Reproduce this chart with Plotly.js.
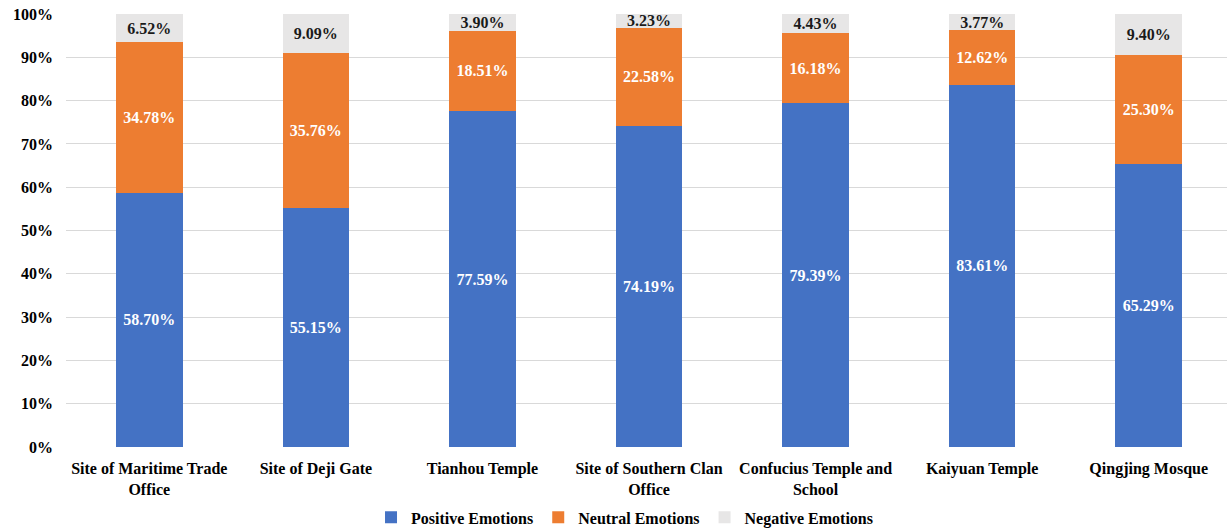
<!DOCTYPE html>
<html>
<head>
<meta charset="utf-8">
<script src="https://cdn.plot.ly/plotly-3.0.1.min.js"></script>
<style>html,body{margin:0;padding:0;background:#fff;overflow:hidden;}#chart{width:1232px;height:529px;}</style>
</head>
<body>
<div id="chart"></div>
<script>
const categories = [
  "Site of Maritime Trade<br>Office",
  "Site of Deji Gate",
  "Tianhou Temple",
  "Site of Southern Clan<br>Office",
  "Confucius Temple and<br>School",
  "Kaiyuan Temple",
  "Qingjing Mosque"
];
const positive = [58.70, 55.15, 77.59, 74.19, 79.39, 83.61, 65.29];
const neutral  = [34.78, 35.76, 18.51, 22.58, 16.18, 12.62, 25.30];
const negative = [6.52, 9.09, 3.90, 3.23, 4.43, 3.77, 9.40];
const seriesNames = ["Positive Emotions", "Neutral Emotions", "Negative Emotions"];

const fontFam = 'Times New Roman, Liberation Serif, serif';
function mk(name, vals, color, txtColor) {
  return {
    type: 'bar', name: name, x: categories, y: vals,
    marker: {color: color},
    text: vals.map(v => v.toFixed(2) + '%'),
    textposition: 'inside', insidetextanchor: 'middle', textangle: 0,
    constraintext: 'none',
    textfont: {family: fontFam, size: 16, color: txtColor, weight: 'bold'},
    hoverinfo: 'x+y'
  };
}
const data = [
  mk(seriesNames[0], positive, '#4472C4', '#ffffff'),
  mk(seriesNames[1], neutral, '#ED7D31', '#ffffff'),
  mk(seriesNames[2], negative, '#E7E6E6', '#1a1a1a')
];
const layout = {
  barmode: 'stack',
  bargap: 0.6,
  width: 1232, height: 529,
  margin: {l: 66, r: 0, t: 14, b: 82},
  paper_bgcolor: '#fff', plot_bgcolor: '#fff',
  font: {family: fontFam, size: 16, color: '#000', weight: 'bold'},
  uniformtext: {mode: 'show', minsize: 16},
  xaxis: {
    tickfont: {family: fontFam, size: 16, color: '#000', weight: 'bold'},
    showline: false, ticks: '', showgrid: false,
    ticklabelstandoff: 10, automargin: false
  },
  yaxis: {
    range: [0, 100], dtick: 10, ticksuffix: '%',
    gridcolor: '#d9d9d9', gridwidth: 1, zeroline: false,
    tickfont: {family: fontFam, size: 16, color: '#000', weight: 'bold'},
    ticklabelstandoff: 12, automargin: false
  },
  showlegend: true,
  legend: {
    orientation: 'h', x: 0.479, xanchor: 'center',
    yref: 'container', y: 0.022, yanchor: 'middle',
    font: {family: fontFam, size: 16, color: '#000', weight: 'bold'},
    itemwidth: 30, traceorder: 'normal'
  }
};
Plotly.newPlot('chart', data, layout, {displayModeBar: false});
</script>
</body>
</html>
